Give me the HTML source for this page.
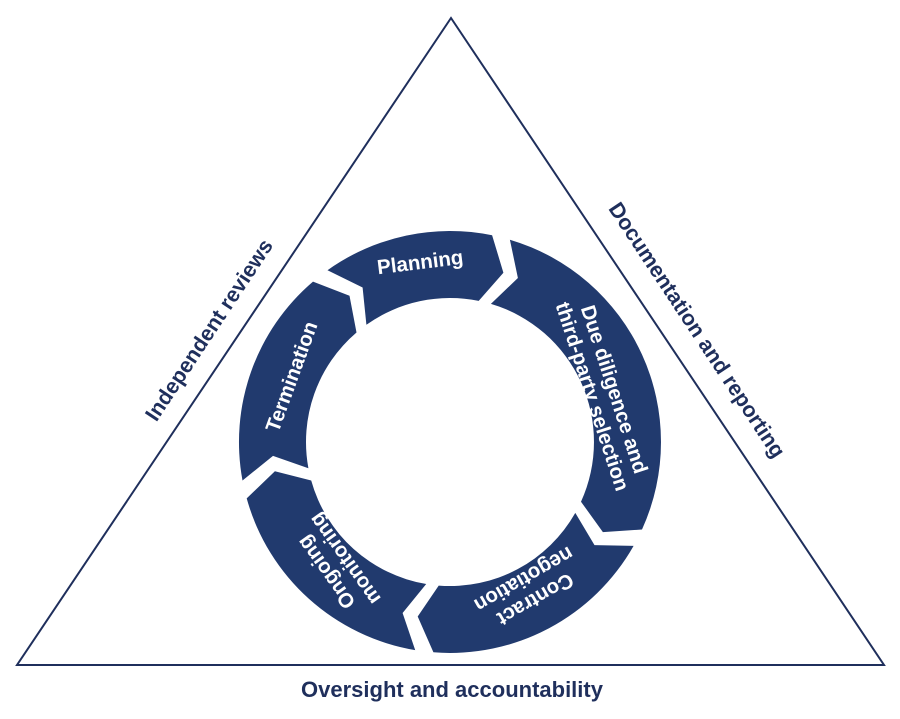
<!DOCTYPE html>
<html><head><meta charset="utf-8"><style>
html,body{margin:0;padding:0;background:#fff;}
svg{display:block;}
text{font-family:"Liberation Sans",Arial,sans-serif;font-weight:bold;}
</style></head><body>
<svg id="s" width="900" height="719" viewBox="0 0 900 719" xmlns="http://www.w3.org/2000/svg">
<polygon points="451,18 17,665 884,665" fill="none" stroke="#1f2f5c" stroke-width="2"/>
<g id="ring" fill="#213a6e"></g>
<g fill="#fff" font-size="20.5" text-anchor="middle">
<text transform="translate(421,269) rotate(-7)">Planning</text>
<text transform="translate(298,379) rotate(-70)">Termination</text>
<text transform="translate(603,393) rotate(72)"><tspan x="0" y="-5">Due diligence and</tspan><tspan x="0" y="18">third-party selection</tspan></text>
<text transform="translate(530,590) rotate(150)"><tspan x="0" y="-4">Contract</tspan><tspan x="0" y="19">negotiation</tspan></text>
<text transform="translate(335,566) rotate(234.5)"><tspan x="0" y="-4">Ongoing</tspan><tspan x="0" y="19">monitoring</tspan></text>
</g>
<g fill="#1f2f5c" font-size="21.5" text-anchor="middle">
<text transform="translate(215,334) rotate(-56.5)">Independent reviews</text>
<text transform="translate(691,334) rotate(56.5)">Documentation and reporting</text>
<text x="452" y="697" font-size="22">Oversight and accountability</text>
</g>
</svg>
<script>
(function(){
var cx=450,cy=442,R=211,r=144,m=(R+r)/2,d=6,gap=2.5;
var cuts=[14,117,187,257,322];
function p(rad,a){var t=(a-90)*Math.PI/180;return (cx+rad*Math.cos(t)).toFixed(1)+","+(cy+rad*Math.sin(t)).toFixed(1);}
var g=document.getElementById("ring"),h="";
for(var i=0;i<5;i++){
 var a0=cuts[(i+4)%5]+gap,a1=cuts[i]-gap;
 if(a1<a0)a1+=360;
 var path="M"+p(R,a0)+" A"+R+","+R+" 0 0 1 "+p(R,a1)+" L"+p(m,a1+d)+" L"+p(r,a1)+" A"+r+","+r+" 0 0 0 "+p(r,a0)+" L"+p(m,a0+d)+" Z";
 h+='<path d="'+path+'"/>';
}
g.innerHTML=h;
})();
</script>
</body></html>
